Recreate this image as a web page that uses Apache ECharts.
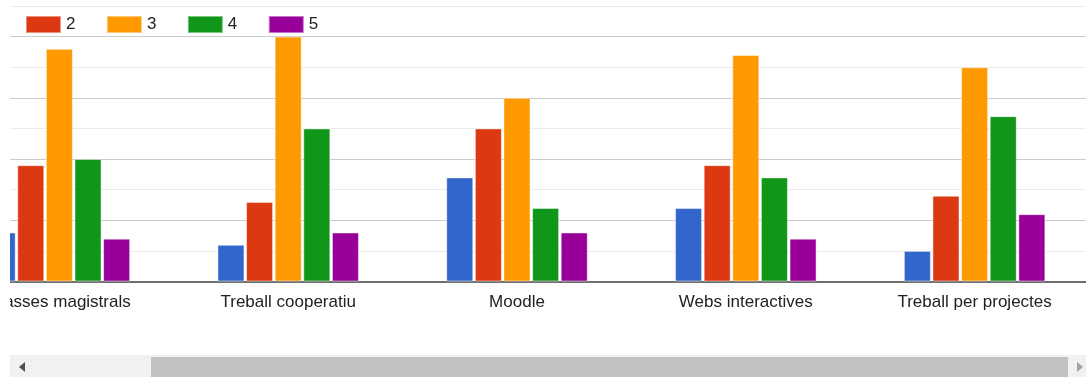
<!DOCTYPE html>
<html>
<head>
<meta charset="utf-8">
<script src="https://cdn.jsdelivr.net/npm/echarts@6/dist/echarts.min.js"></script>
<style>
  html, body { margin: 0; padding: 0; background: #fff; }
  body { width: 1086px; height: 378px; position: relative; overflow: hidden; }
  /* finestra visible del gràfic (desplaçat cap a la dreta) */
  #wrap { position: absolute; left: 10px; top: 0; width: 1076px; height: 355px; overflow: hidden; }
  #chart { position: absolute; left: -65px; top: 0; width: 1144px; height: 355px; }
  /* barra de desplaçament horitzontal */
  .track { position: absolute; left: 10px; top: 355px; width: 1076px; height: 22px; background: #f1f1f1; }
  .thumb { position: absolute; left: 141px; top: 2px; width: 917px; height: 20px; background: #c1c1c1; }
  .arrow-l { position: absolute; left: 9px; top: 7px; width: 0; height: 0;
    border-top: 5px solid transparent; border-bottom: 5px solid transparent; border-right: 6px solid #505050; }
  .arrow-r { position: absolute; left: 1067px; top: 7px; width: 0; height: 0;
    border-top: 5px solid transparent; border-bottom: 5px solid transparent; border-left: 6px solid #a3a3a3; }
</style>
</head>
<body>
<div id="wrap"><div id="chart"></div></div>
<div class="track"><div class="arrow-l"></div><div class="thumb"></div><div class="arrow-r"></div></div>
<script>
// categories (eix X)
const categories = ["Classes magistrals", "Treball cooperatiu", "Moodle", "Webs interactives", "Treball per projectes"];
// valoracions 1..5
const seriesNames = ["1", "2", "3", "4", "5"];
const val1 = [8, 6, 17, 12, 5];
const val2 = [19, 13, 25, 19, 14];
const val3 = [38, 40, 30, 37, 35];
const val4 = [20, 25, 12, 17, 27];
const val5 = [7, 8, 8, 7, 11];
const colorList = ["#3366cc", "#dc3912", "#ff9900", "#109618", "#990099"];

const values = [val1, val2, val3, val4, val5];
const chart = echarts.init(document.getElementById("chart"), null, { renderer: "canvas" });

const option = {
  animation: false,
  backgroundColor: "#fff",
  color: colorList,
  textStyle: { fontFamily: "Arial, 'Liberation Sans', sans-serif" },
  grid: { left: 0, right: 0, top: 6, bottom: 73.5, containLabel: false },
  legend: {
    left: -6,
    top: 10,
    itemWidth: 35,
    itemHeight: 17,
    itemGap: 30.5,
    icon: "rect",
    textStyle: { color: "#222", fontSize: 17 },
    data: seriesNames
  },
  xAxis: {
    type: "category",
    data: categories,
    axisLine: { show: true, lineStyle: { color: "#6f6f6f", width: 2 } },
    axisTick: { show: false },
    axisLabel: { color: "#222", fontSize: 17, margin: 12, interval: 0 }
  },
  yAxis: {
    type: "value",
    min: 0,
    max: 45,
    interval: 5,
    axisLine: { show: false },
    axisTick: { show: false },
    axisLabel: { show: false },
    splitLine: { lineStyle: { color: ["#cccccc", "#ebebeb"], width: 1 } }
  },
  series: seriesNames.map((name, i) => ({
    name: name,
    type: "bar",
    barWidth: 27,
    barGap: "6%",
    itemStyle: { color: colorList[i], borderColor: "rgba(255,255,255,0.45)", borderWidth: 1 },
    data: values[i]
  }))
};
chart.setOption(option);
</script>
</body>
</html>
